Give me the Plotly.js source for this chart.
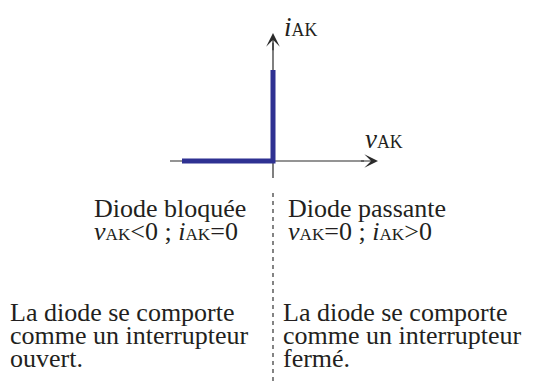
<!DOCTYPE html>
<html>
<head>
<meta charset="utf-8">
<script src="https://cdn.plot.ly/plotly-3.0.1.min.js"></script>
<style>html,body{margin:0;padding:0;background:#fff}#chart{width:540px;height:381px}</style>
</head>
<body>
<div id="chart"></div>
<script>
// Characteristic of the ideal diode (arbitrary units)
const vAK = [-1, 0, 0];
const iAK = [0, 0, 1];
const SUB = (s) => '<span style="font-size:66%">' + s + '</span>';
const xLabel = '<i>v</i>' + SUB('AK');
const yLabel = '<i>i</i>' + SUB('AK');
const leftTitle = ['Diode bloquée', '<i>v</i>' + SUB('AK') + '&lt;0 ; <i>i</i>' + SUB('AK') + '=0'];
const rightTitle = ['Diode passante', '<i>v</i>' + SUB('AK') + '=0 ; <i>i</i>' + SUB('AK') + '&gt;0'];
const leftNote = ['La diode se comporte', 'comme un interrupteur', 'ouvert.'];
const rightNote = ['La diode se comporte', 'comme un interrupteur', 'fermé.'];

const FONT = 'Liberation Serif, Times New Roman, serif';
const TXT = '#231f20';
const AX = '#2b2b2b';

const annotations = [];
// axis arrowheads
annotations.push({x: 1.154, y: 0, ax: 0.95, ay: 0, xref: 'x', yref: 'y', axref: 'x', ayref: 'y',
  text: '', showarrow: true, arrowhead: 3, arrowsize: 1.9, arrowwidth: 1.2, arrowcolor: AX, standoff: 0});
annotations.push({x: 0, y: 1.407, ax: 0, ay: 1.2, xref: 'x', yref: 'y', axref: 'x', ayref: 'y',
  text: '', showarrow: true, arrowhead: 3, arrowsize: 1.9, arrowwidth: 1.2, arrowcolor: AX, standoff: 0});
// axis labels
annotations.push({x: 0.99, y: 0.24, xref: 'x', yref: 'y', text: xLabel, showarrow: false,
  xanchor: 'left', yanchor: 'middle', font: {family: FONT, size: 27, color: TXT}});
annotations.push({x: 0.1, y: 1.475, xref: 'x', yref: 'y', text: yLabel, showarrow: false,
  xanchor: 'left', yanchor: 'middle', font: {family: FONT, size: 27, color: TXT}});

function addLines(lines, xpx, ypx0, step) {
  lines.forEach((t, k) => {
    annotations.push({x: xpx / 540, y: 1 - (ypx0 + k * step) / 381, xref: 'paper', yref: 'paper',
      text: t, showarrow: false, xanchor: 'left', yanchor: 'middle',
      font: {family: FONT, size: 26, color: TXT}});
  });
}
addLines(leftTitle, 92, 208, 23);
addLines(rightTitle, 286, 208, 23);
addLines(leftNote, 8, 312, 23);
addLines(rightNote, 281, 312, 23);

const shapes = [
  {type: 'line', xref: 'x', yref: 'y', x0: -1.132, x1: 1.0, y0: 0, y1: 0, layer: 'below', line: {color: AX, width: 1.2}},
  {type: 'line', xref: 'x', yref: 'y', x0: 0, x1: 0, y0: -0.187, y1: 1.3, layer: 'below', line: {color: AX, width: 1.2}},
  {type: 'line', xref: 'x', yref: 'y', x0: 0, x1: 0, y0: -0.352, y1: -2.45, layer: 'below', line: {color: '#333', width: 1.2, dash: '4px,4px'}}
];

const data = [{x: vAK, y: iAK, type: 'scatter', mode: 'lines', line: {color: '#2e3192', width: 5}, hoverinfo: 'skip'}];

const layout = {
  width: 540, height: 381, margin: {l: 0, r: 0, t: 0, b: 0},
  paper_bgcolor: '#fff', plot_bgcolor: '#fff', showlegend: false,
  xaxis: {range: [-273 / 91, 267 / 91], visible: false, fixedrange: true},
  yaxis: {range: [-220 / 91, 161 / 91], visible: false, fixedrange: true},
  shapes: shapes, annotations: annotations
};
Plotly.newPlot('chart', data, layout, {displayModeBar: false, staticPlot: true});
</script>
</body>
</html>
